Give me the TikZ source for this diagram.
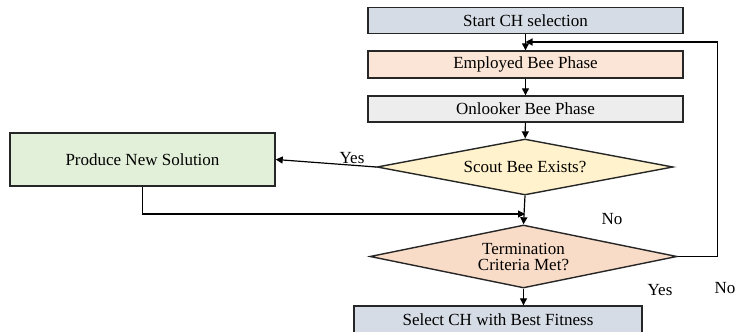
\documentclass[tikz,border=0pt]{standalone}
\usepackage{fontspec}
\setmainfont{Liberation Serif}
\usepackage{xcolor}
\usetikzlibrary{shapes.geometric,arrows.meta}

\definecolor{boxblue}{HTML}{D6DCE5}
\definecolor{boxpeach}{HTML}{FBE5D6}
\definecolor{boxgray}{HTML}{EDEDED}
\definecolor{boxyellow}{HTML}{FFF2CC}
\definecolor{boxgreen}{HTML}{E2F0D9}
\definecolor{boxorange}{HTML}{F9DCC8}

\begin{document}
\begin{tikzpicture}[x=0.5pt,y=-0.5pt,
            font=\fontsize{8.5}{8}\selectfont,
            phase/.style = {rectangle, draw=black!85, line width=0.7pt,
                        minimum width=157.5pt, minimum height=13pt,
                        inner sep=0pt},
            check/.style = {diamond, draw=black!85, line width=0.7pt,
                        inner sep=0pt, align=center},
            flow/.style = {line width=0.6pt,
                        -{Triangle[length=3.5pt,width=3.5pt]}}]
            \useasboundingbox (0,0) rectangle (735,332);
            % Main column
            \node[phase,fill=boxblue] (start) at (525.5,20.5) {Start CH selection};
            \node[phase,fill=boxpeach,minimum height=13.5pt] (employed) at (525.5,64.5) {Employed Bee Phase};
            \node[phase,fill=boxgray] (onlooker) at (525.5,109) {Onlooker Bee Phase};
            % Scout bee test
            \node[check,fill=boxyellow,aspect=5.3,
                  minimum width=148pt,minimum height=28pt] (scout) at (525,167) {Scout Bee Exists?};
            % New solution
            \node[phase,fill=boxgreen,minimum width=132.5pt,minimum height=26.5pt] (produce) at (142.5,159.5) {Produce New Solution};
            % Termination test
            \node[check,fill=boxorange,aspect=4.9,
                  minimum width=153.5pt,minimum height=31.5pt] (term) at (523.5,256.5) {Termination\\Criteria Met?};
            % Result
            \node[phase,fill=boxblue,minimum width=144pt,minimum height=14pt] (select) at (498,320) {Select CH with Best Fitness};
            % Joining points
            \coordinate (loop) at (525.5,42);
            \coordinate (join) at (525,214);
            % Connectors
            \draw[flow] (start) -- (employed);
            \draw[flow] (employed) -- (onlooker);
            \draw[flow] (onlooker) -- (scout);
            \draw[flow] (scout.west) -- (produce.east);
            \draw[flow] (produce.south) |- (join);
            \draw[flow] (scout.south) -- (term.north);
            \draw[flow] (term.east) -- ++(40,0) |- (loop);
            \draw[flow] (term.south) -- (select.north -| term.south);
            % Labels
            \node at (352,158) {Yes};
            \node at (612,219) {No};
            \node at (660,290) {Yes};
            \node at (725,288) {No};
        \end{tikzpicture}
\end{document}
